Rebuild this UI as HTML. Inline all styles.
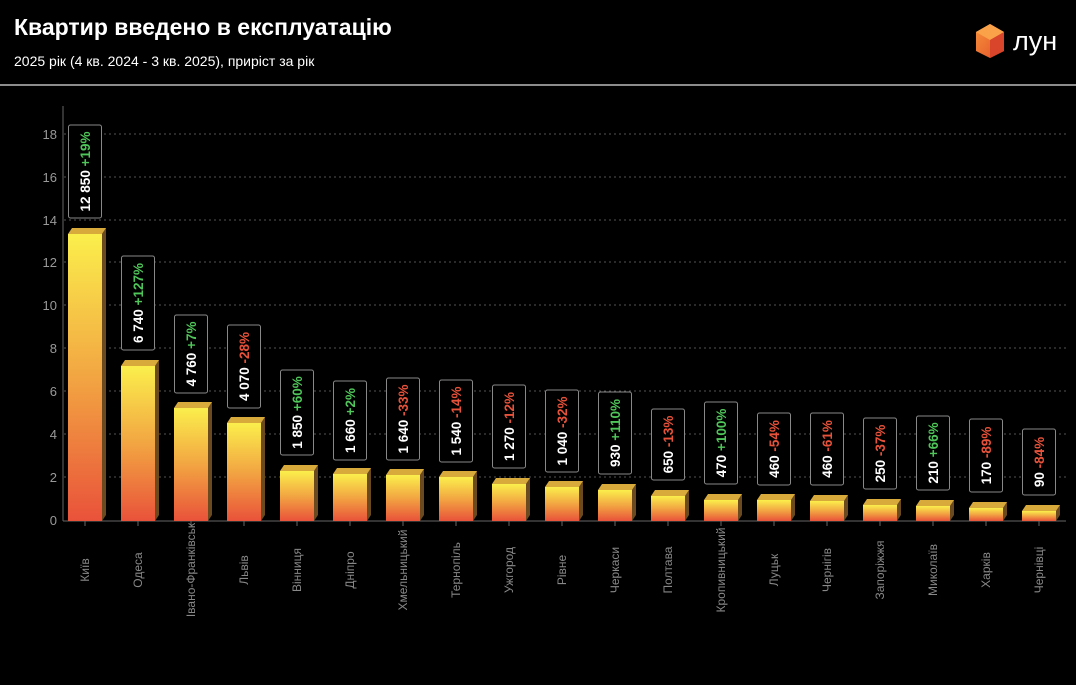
<!DOCTYPE html>
<html><head><meta charset="utf-8"><style>
html,body{margin:0;padding:0;background:#000;}
body{width:1076px;height:680px;overflow:hidden;font-family:"Liberation Sans",sans-serif;}
</style></head><body>
<svg width="1076" height="680" xmlns="http://www.w3.org/2000/svg" font-family="Liberation Sans, sans-serif">
<defs>
<linearGradient id="g" x1="0" y1="0" x2="0" y2="1">
<stop offset="0" stop-color="#fbef4c"/><stop offset="0.5" stop-color="#f2a542"/><stop offset="1" stop-color="#e9523a"/>
</linearGradient>
<linearGradient id="cube" x1="0" y1="0" x2="1" y2="1"><stop offset="0" stop-color="#f7923a"/><stop offset="1" stop-color="#e2512a"/></linearGradient>
</defs>
<rect width="1076" height="680" fill="#000"/>
<text x="14" y="35" fill="#fff" font-size="23" font-weight="bold">Квартир введено в експлуатацію</text>
<text x="14" y="66" fill="#fff" font-size="14">2025 рік (4 кв. 2024 - 3 кв. 2025), приріст за рік</text>
<line x1="0" y1="85" x2="1076" y2="85" stroke="#bbb" stroke-width="1.5"/>
<polygon points="990,24 1004,32 1004,51 990,58 976,51 976,32" fill="url(#cube)"/>
<polygon points="990,24 1004,32 990,40 976,32" fill="#f9a24a"/>
<polygon points="990,40 1004,32 1004,51 990,58" fill="#d9452a"/>
<text x="1013" y="50" fill="#fff" font-size="27">лун</text>
<g stroke="#555" stroke-dasharray="2,3" stroke-width="1">
<line x1="64" y1="477" x2="1066" y2="477"/><line x1="64" y1="434" x2="1066" y2="434"/><line x1="64" y1="391" x2="1066" y2="391"/><line x1="64" y1="348" x2="1066" y2="348"/><line x1="64" y1="305" x2="1066" y2="305"/><line x1="64" y1="262" x2="1066" y2="262"/><line x1="64" y1="220" x2="1066" y2="220"/><line x1="64" y1="177" x2="1066" y2="177"/><line x1="64" y1="134" x2="1066" y2="134"/>
</g>
<line x1="63" y1="106" x2="63" y2="521" stroke="#666"/>
<line x1="63" y1="521" x2="1066" y2="521" stroke="#666"/>
<g fill="#999" font-size="13" text-anchor="end">
<text x="57" y="525">0</text><text x="57" y="482">2</text><text x="57" y="439">4</text><text x="57" y="396">6</text><text x="57" y="353">8</text><text x="57" y="310">10</text><text x="57" y="267">12</text><text x="57" y="225">14</text><text x="57" y="182">16</text><text x="57" y="139">18</text>
</g>
<g id="bars"></g>
</svg>
<script>
var d=[["Київ",234,125,218,"12 850","+19%",1],["Одеса",366,256,350,"6 740","+127%",1],["Івано-Франківськ",408,315,393,"4 760","+7%",1],["Львів",423,325,408,"4 070","-28%",0],["Вінниця",471,370,455,"1 850","+60%",1],["Дніпро",474,381,460,"1 660","+2%",1],["Хмельницький",475,378,460,"1 640","-33%",0],["Тернопіль",477,380,462,"1 540","-14%",0],["Ужгород",484,385,468,"1 270","-12%",0],["Рівне",487,390,472,"1 040","-32%",0],["Черкаси",490,392,474,"930","+110%",1],["Полтава",496,409,480,"650","-13%",0],["Кропивницький",500,402,484,"470","+100%",1],["Луцьк",500,413,485,"460","-54%",0],["Чернігів",501,413,485,"460","-61%",0],["Запоріжжя",505,418,489,"250","-37%",0],["Миколаїв",506,416,490,"210","+66%",1],["Харків",508,419,492,"170","-89%",0],["Чернівці",511,429,495,"90","-84%",0]];
var s="";
d.forEach(function(r,i){var x=68+53*i,t=r[1],cx=x+17;
s+='<polygon points="'+(x+34)+','+t+' '+(x+38)+','+(t-6)+' '+(x+38)+',515 '+(x+34)+',521" fill="#6b4a1f"/>';
s+='<polygon points="'+x+','+t+' '+(x+4)+','+(t-6)+' '+(x+38)+','+(t-6)+' '+(x+34)+','+t+'" fill="#d8aa3c"/>';
s+='<rect x="'+x+'" y="'+t+'" width="34" height="'+(521-t)+'" fill="url(#g)"/>';
s+='<line x1="'+cx+'" y1="521" x2="'+cx+'" y2="526" stroke="#666"/>';
s+='<rect x="'+(cx-16.5)+'" y="'+r[2]+'" width="33" height="'+(r[3]-r[2])+'" rx="2" fill="#000" stroke="#888"/>';
var my=(r[2]+r[3])/2;
s+='<text transform="translate('+(cx+5)+','+my+') rotate(-90)" text-anchor="middle" font-size="13.5" font-weight="bold" fill="#fff">'+r[4]+' <tspan fill="'+(r[6]?'#4fc659':'#e8523a')+'">'+r[5]+'</tspan></text>';
s+='<text transform="translate('+(cx+4)+',570) rotate(-90)" text-anchor="middle" font-size="12" fill="#888">'+r[0]+'</text>';
});
document.getElementById("bars").innerHTML=s;
</script>
</body></html>
